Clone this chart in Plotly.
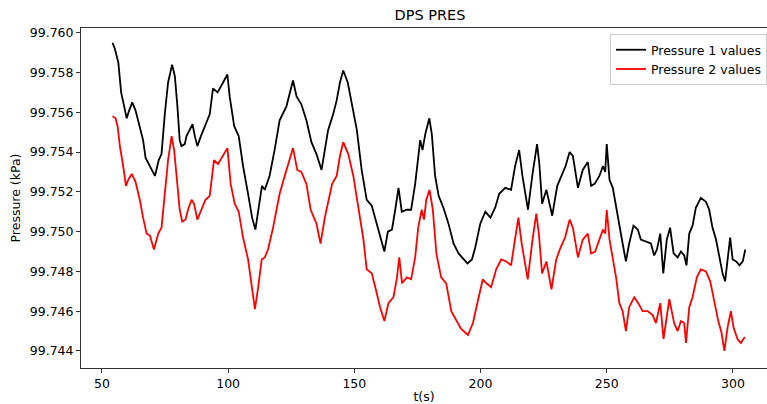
import plotly.graph_objects as go

# Pressure 1 (black)
t1 = [54.2, 55.1, 56.5, 57.6, 58.8, 59.8, 60.8, 62.0, 63.3, 65.0, 66.3, 67.3, 69.0, 71.0, 72.5, 73.6,
      74.9, 76.2, 77.8, 78.9, 79.9, 80.8, 81.5, 82.8, 83.5, 84.8, 85.9, 86.8, 87.8, 89.2, 90.7, 92.7,
      94.0, 95.8, 98.0, 99.7, 100.6, 102.4, 104.2, 105.9, 107.9, 109.5, 110.8, 112.1, 113.4, 114.5,
      116.4, 118.4, 120.4, 123.1, 124.4, 125.7, 127.1, 129.0, 131.0, 133.0, 135.0, 137.0, 138.3, 139.6,
      141.6, 143.0, 144.3, 145.6, 147.4, 149.0, 151.0, 152.9, 154.9, 156.9, 158.9, 160.6, 161.9, 163.3,
      164.9, 166.2, 167.5, 168.8, 170.8, 172.5, 174.1, 176.1, 177.0, 178.1, 179.7, 180.7, 182.0, 183.4,
      185.3, 187.3, 189.3, 191.3, 193.3, 194.8, 196.6, 197.9, 199.9, 201.9, 203.9, 205.8, 207.4, 209.8,
      212.1, 213.7, 215.3, 216.6, 218.8, 220.6, 222.4, 223.3, 224.4, 226.1, 228.4, 230.4, 232.4, 233.7,
      235.3, 236.6, 238.6, 240.5, 242.5, 243.8, 245.2, 247.1, 248.5, 249.4, 250.0, 251.1, 252.4, 253.7,
      255.0, 256.3, 257.6, 258.9, 260.6, 262.3, 263.5, 265.5, 267.5, 268.8, 269.9, 271.2, 272.4, 273.8,
      275.1, 276.5, 278.1, 279.4, 280.7, 281.6, 282.7, 284.0, 285.3, 287.3, 289.3, 290.6, 291.9, 293.3,
      294.6, 295.9, 296.9, 297.9, 298.9, 299.9, 301.3, 302.6, 303.9, 304.9]
p1 = [99.7595, 99.7592, 99.7585, 99.7570, 99.7563, 99.7557, 99.7561, 99.7565, 99.7561, 99.7553, 99.7546,
      99.7537, 99.7533, 99.7528, 99.7536, 99.7539, 99.7559, 99.7575, 99.7584, 99.7578, 99.7563, 99.7546,
      99.7543, 99.7544, 99.7548, 99.7551, 99.7554, 99.7548, 99.7543, 99.7548, 99.7553, 99.7559, 99.7572,
      99.7570, 99.7575, 99.7579, 99.7568, 99.7553, 99.7548, 99.7533, 99.7519, 99.7507, 99.7501, 99.7513,
      99.7523, 99.7521, 99.7528, 99.7541, 99.7556, 99.7563, 99.7570, 99.7576, 99.7568, 99.7564, 99.7556,
      99.7545, 99.7539, 99.7531, 99.7541, 99.7551, 99.7559, 99.7566, 99.7575, 99.7581, 99.7575, 99.7564,
      99.7551, 99.7531, 99.7516, 99.7513, 99.7504, 99.7497, 99.7490, 99.7500, 99.7501, 99.7511, 99.7522,
      99.7510, 99.7511, 99.7511, 99.7524, 99.7546, 99.7541, 99.7549, 99.7557, 99.7549, 99.7528, 99.7518,
      99.7512, 99.7504, 99.7494, 99.7489, 99.7486, 99.7484, 99.7486, 99.7492, 99.7504, 99.7510, 99.7507,
      99.7512, 99.7519, 99.7522, 99.7521, 99.7533, 99.7541, 99.7528, 99.7511, 99.7529, 99.7544, 99.7534,
      99.7514, 99.7521, 99.7508, 99.7523, 99.7529, 99.7533, 99.7540, 99.7538, 99.7522, 99.7531, 99.7535,
      99.7523, 99.7524, 99.7528, 99.7533, 99.7530, 99.7544, 99.7526, 99.7522, 99.7512, 99.7502, 99.7494,
      99.7485, 99.7494, 99.7503, 99.7501, 99.7496, 99.7495, 99.7494, 99.7488, 99.7491, 99.7499, 99.7479,
      99.7496, 99.7502, 99.7489, 99.7487, 99.7490, 99.7488, 99.7483, 99.7499, 99.7503, 99.7512, 99.7517,
      99.7515, 99.7511, 99.7502, 99.7496, 99.7487, 99.7479, 99.7475, 99.7487, 99.7497, 99.7486, 99.7485,
      99.7483, 99.7485, 99.7491]

# Pressure 2 (red)
t2 = [54.2, 55.4, 56.2, 57.1, 58.4, 59.5, 60.4, 61.8, 63.3, 65.0, 66.3, 67.7, 69.0, 70.6, 72.3, 73.6,
      74.9, 76.2, 77.6, 78.6, 79.5, 80.8, 81.8, 83.1, 84.1, 85.5, 86.5, 87.8, 89.4, 91.0, 92.7, 94.4,
      96.0, 98.0, 99.7, 101.0, 102.6, 104.2, 105.9, 107.9, 109.3, 110.6, 111.9, 113.3, 114.5, 115.8,
      117.8, 120.4, 122.4, 124.4, 125.7, 127.4, 129.0, 131.0, 132.7, 135.0, 136.6, 138.3, 139.4, 141.2,
      143.0, 144.3, 145.6, 147.6, 149.6, 151.6, 153.6, 154.9, 156.9, 158.5, 160.2, 161.9, 163.5, 165.5,
      166.9, 167.8, 168.9, 170.8, 172.5, 174.1, 175.3, 176.7, 177.6, 178.5, 179.8, 181.1, 182.5, 184.4,
      186.4, 188.4, 190.4, 192.3, 195.0, 197.0, 198.9, 200.9, 202.3, 204.2, 206.2, 208.2, 210.2, 212.1,
      213.4, 215.0, 216.3, 218.7, 220.7, 222.1, 223.1, 224.4, 226.1, 228.1, 230.0, 231.7, 233.5, 235.3,
      236.6, 238.6, 240.5, 242.5, 243.8, 245.4, 247.1, 248.5, 249.4, 250.0, 251.1, 252.4, 253.7, 255.0,
      256.3, 257.6, 258.9, 260.9, 262.5, 264.2, 266.2, 268.2, 269.5, 271.2, 272.5, 274.8, 276.7, 278.1,
      279.4, 280.7, 281.4, 282.7, 284.0, 285.7, 287.3, 289.3, 291.0, 292.6, 294.2, 295.5, 296.6, 297.9,
      299.2, 300.2, 301.8, 303.1, 304.7]
p2 = [99.7558, 99.7557, 99.7553, 99.7543, 99.7533, 99.7523, 99.7526, 99.7529, 99.7525, 99.7516, 99.7507,
      99.7499, 99.7498, 99.7491, 99.7499, 99.7502, 99.7519, 99.7536, 99.7548, 99.7541, 99.7529, 99.7511,
      99.7505, 99.7506, 99.7511, 99.7516, 99.7514, 99.7506, 99.7511, 99.7516, 99.7518, 99.7536, 99.7534,
      99.7538, 99.7542, 99.7524, 99.7514, 99.7510, 99.7497, 99.7486, 99.7472, 99.7461, 99.7472, 99.7486,
      99.7487, 99.7491, 99.7502, 99.7519, 99.7528, 99.7536, 99.7542, 99.7531, 99.7530, 99.7524, 99.7511,
      99.7504, 99.7494, 99.7507, 99.7514, 99.7524, 99.7528, 99.7538, 99.7545, 99.7539, 99.7528, 99.7512,
      99.7496, 99.7481, 99.7479, 99.7471, 99.7462, 99.7455, 99.7464, 99.7467, 99.7477, 99.7487, 99.7474,
      99.7477, 99.7476, 99.7487, 99.7502, 99.7511, 99.7506, 99.7516, 99.7521, 99.7511, 99.7489, 99.7477,
      99.7474, 99.7460, 99.7455, 99.7451, 99.7448, 99.7454, 99.7465, 99.7476, 99.7474, 99.7472, 99.7481,
      99.7486, 99.7485, 99.7483, 99.7494, 99.7507, 99.7494, 99.7476, 99.7497, 99.7509, 99.7499, 99.7479,
      99.7485, 99.7471, 99.7486, 99.7492, 99.7497, 99.7506, 99.7502, 99.7487, 99.7496, 99.7499, 99.7489,
      99.7490, 99.7496, 99.7501, 99.7499, 99.7511, 99.7496, 99.7487, 99.7477, 99.7464, 99.7460, 99.7450,
      99.7462, 99.7467, 99.7464, 99.7460, 99.7460, 99.7458, 99.7454, 99.7464, 99.7446, 99.7466, 99.7454,
      99.7450, 99.7455, 99.7454, 99.7444, 99.7462, 99.7467, 99.7477, 99.7481, 99.7480, 99.7475, 99.7465,
      99.7455, 99.7449, 99.7440, 99.7452, 99.7460, 99.7452, 99.7446, 99.7444, 99.7447]

x_ticks = [50, 100, 150, 200, 250, 300]
y_ticks = [99.744, 99.746, 99.748, 99.750, 99.752, 99.754, 99.756, 99.758, 99.760]
y_tick_labels = ["99.744", "99.746", "99.748", "99.750", "99.752", "99.754", "99.756", "99.758", "99.760"]

FONT = "DejaVu Sans"

fig = go.Figure()
fig.add_trace(go.Scatter(x=t1, y=p1, mode="lines", name="Pressure 1 values",
                         line=dict(color="black", width=1.8)))
fig.add_trace(go.Scatter(x=t2, y=p2, mode="lines", name="Pressure 2 values",
                         line=dict(color="red", width=1.8)))

fig.update_layout(
    width=767, height=404,
    margin=dict(l=81, r=0, t=28, b=36, autoexpand=False),
    paper_bgcolor="white", plot_bgcolor="white",
    font=dict(family=FONT, size=12.5, color="#000000"),
    title=dict(text="DPS PRES", x=0.5606, xref="container", xanchor="center",
               y=0.962, yref="container", yanchor="middle",
               font=dict(family=FONT, size=14.5, color="#000000")),
    showlegend=True,
    legend=dict(x=1, xanchor="right", y=0.982, yanchor="top",
                bgcolor="rgba(255,255,255,0.8)", bordercolor="#cccccc", borderwidth=1,
                font=dict(family=FONT, size=12.5), tracegroupgap=0),
    xaxis=dict(range=[41.7, 313.5], tickvals=x_ticks, showgrid=False, zeroline=False,
               showline=True, linecolor="#333333", linewidth=1, mirror=True,
               ticks="outside", ticklen=4, tickcolor="#333333",
               title=dict(text="t(s)", standoff=4, font=dict(size=12.5))),
    yaxis=dict(range=[99.74314, 99.76024], tickvals=y_ticks, ticktext=y_tick_labels,
               showgrid=False, zeroline=False,
               showline=True, linecolor="#333333", linewidth=1,
               ticks="outside", ticklen=4, tickcolor="#333333",
               title=dict(text="Pressure (kPa)", standoff=6, font=dict(size=12.5))),
)

fig.write_html("out.html", config={"displayModeBar": False},
               post_script="document.body.style.margin='0';")
